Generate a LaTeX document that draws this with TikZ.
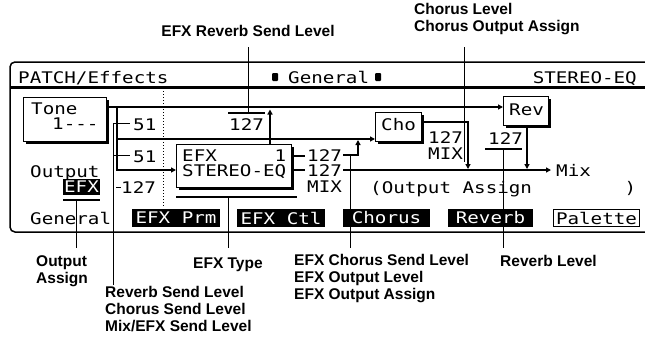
\documentclass[tikz,border=0pt]{standalone}
\usepackage{fontspec}
\setmainfont{Liberation Sans}
\newfontfamily\lcdfam{DejaVu Sans Mono}[FakeStretch=1.2]
\usetikzlibrary{arrows.meta,shadows}
\begin{document}
\begin{tikzpicture}[x=1pt,y=-1pt,
  lcd/.style={font=\lcdfam\fontsize{16}{16}\selectfont, inner sep=0pt, anchor=base west, text height=11.5pt, text depth=0.5pt},
  lbl/.style={font=\bfseries\fontsize{15.5}{17}\selectfont, inner sep=0pt, align=left},
  ln/.style={line width=1.3pt},
  ptr/.style={line width=0.9pt},
  arr/.style={ln, -{Triangle[length=5pt,width=5pt]}},
  lcdbox/.style={draw, fill=white, line width=1.3pt, inner sep=0pt, anchor=north west,
     drop shadow={shadow xshift=2.2pt, shadow yshift=-2.2pt, opacity=1, fill=black}},
  tab/.style={fill=black, text=white, font=\lcdfam\fontsize{16}{16}\selectfont, minimum width=88pt, minimum height=18pt, inner sep=0pt},
  sq/.style={fill=black, minimum width=6pt, minimum height=8pt, inner sep=0pt, rounded corners=1pt},
  ul/.style={line width=2.6pt}
]
\useasboundingbox (0,0) rectangle (645,340);
\clip (0,0) rectangle (645,340);
% frame
\draw[line width=1.5pt, rounded corners=5pt] (10,62) rectangle (660,232);
\draw[line width=3pt] (10,87.5) -- (660,87.5);
\draw[line width=1pt, dotted] (163,91) -- (163,207);
% header
\node[lcd] (hpatch) at (18,83) {PATCH/Effects};
\node[sq] (sqa) at (275,77) {};
\node[lcd] (hgen) at (288,83) {General};
\node[sq] (sqb) at (378,77) {};
\node[lcd, anchor=base east] (htype) at (637,83) {STEREO-EQ};
% boxes
\node[lcdbox, minimum width=83pt, minimum height=44pt] (tone) at (23,97) {};
\node[lcd] (tonet) at (31,114) {Tone};
\node[lcd] (tonen) at (52,129) {1---};
\node[lcdbox, minimum width=115pt, minimum height=43pt] (efx) at (176,144) {};
\node[lcd] (efxa) at (182,161) {EFX~~~~~1};
\node[lcd] (efxb) at (182,176) {STEREO-EQ};
\node[lcdbox, minimum width=46pt, minimum height=29pt] (cho) at (375,112) {};
\node[lcd] (chot) at (381,130) {Cho};
\node[lcdbox, minimum width=45pt, minimum height=29pt] (rev) at (503,96) {};
\node[lcd] (revt) at (509,115) {Rev};
% values
\node[lcd] (s1) at (133,130) {51};
\node[lcd] (s2) at (133,162) {51};
\node[lcd] (s3) at (121,193) {127};
\node[lcd] (ers) at (229,130) {127};
\node[lcd] (eo1) at (307,161) {127};
\node[lcd] (eo2) at (307,176) {127};
\node[lcd] (eo3) at (307,192) {MIX};
\node[lcd] (cl) at (428,143) {127};
\node[lcd] (cm) at (428,159) {MIX};
\node[lcd] (rl) at (488,144) {127};
\node[lcd] (mix) at (556,176) {Mix};
\node[lcd] (oa) at (370,193) {(Output Assign~~~~~~~~)};
\node[lcd] (outt) at (30,177) {Output};
\node[fill=black, text=white, font=\lcdfam\fontsize{16}{16}\selectfont, minimum width=37pt, minimum height=16pt, inner sep=0pt] (outefx) at (81.5,187) {EFX};
% underlines
\coordinate (ersl) at (228,113); \coordinate (ersr) at (265,113);
\draw[ul] (ersl) -- (ersr);
\coordinate (efxul) at (176,197); \coordinate (efxur) at (297,197);
\draw[ul] (efxul) -- (efxur);
\coordinate (rll) at (485,149); \coordinate (rlr) at (522,149);
\draw[ul] (rll) -- (rlr);
\coordinate (oul) at (63,199.5); \coordinate (our) at (100,199.5);
\draw[line width=2pt] (oul) -- (our);
% tabs
\node[lcd] (tgen) at (30,224) {General};
\node[tab] (t1) at (176,218) {EFX Prm};
\node[tab] (t2) at (281,218) {EFX Ctl};
\node[tab, minimum width=87pt] (t3) at (386.5,218) {Chorus};
\node[tab, minimum width=85pt] (t4) at (490.5,218) {Reverb};
\node[draw, line width=1.5pt, font=\lcdfam\fontsize{16}{16}\selectfont, minimum width=86pt, minimum height=17pt, inner sep=0pt] (t5) at (596.5,218) {Palette};
% signal lines
\draw[arr] (tone.east |- 0,107) -- (rev.west |- 0,107);
\draw[arr] (117,107) -- (117,170) -- (efx.west |- 0,170);
\draw[arr] (117,139) -- (cho.west |- 0,139);
\draw[arr] (efx.north -| 270,0) -- (270,109.5);
\draw[ln] (efx.east |- 0,156) -- (305,156);
\draw[ln] (efx.east |- 0,170) -- (305,170);
\draw[arr] (343,155) -- (358,155) -- (358,140);
\coordinate (mixend) at (551,170);
\draw[arr] (343,170) -- (mixend);
\draw[arr] (cho.east |- 0,122) -- (468,122) -- (468,169);
\draw[arr] (rev.south -| 527,0) -- (527,169);
% left send ticks
\draw[ptr] (113,123) -- (130,123);
\draw[ptr] (113,155) -- (130,155);
\draw[ptr] (116,187) -- (121,187);
% labels
\node[lbl, anchor=center] (lers) at (248,31) {EFX Reverb Send Level};
\node[lbl, anchor=north west] (lcho) at (414,3) {Chorus Level\\Chorus Output Assign};
\node[lbl, anchor=north west] (lout) at (36,255) {Output\\Assign};
\node[lbl, anchor=north west] (ltype) at (193,258) {EFX Type};
\node[lbl, anchor=north west] (lefx) at (294,254) {EFX Chorus Send Level\\EFX Output Level\\EFX Output Assign};
\node[lbl, anchor=north west] (lrev) at (500,255) {Reverb Level};
\node[lbl, anchor=north west] (lsend) at (105,286) {Reverb Send Level\\Chorus Send Level\\Mix/EFX Send Level};
% pointers
\draw[ptr] (248,47) -- (ersl -| 248,0);
\draw[ptr] (464,47) -- (464,162);
\draw[ptr] (76,199.5) -- (76,248);
\draw[ptr] (113,123) -- (113,285);
\draw[ptr] (228,197) -- (228,248);
\draw[ptr] (350,155) -- (350,248);
\draw[ptr] (503,149) -- (503,248);
\end{tikzpicture}
\end{document}
